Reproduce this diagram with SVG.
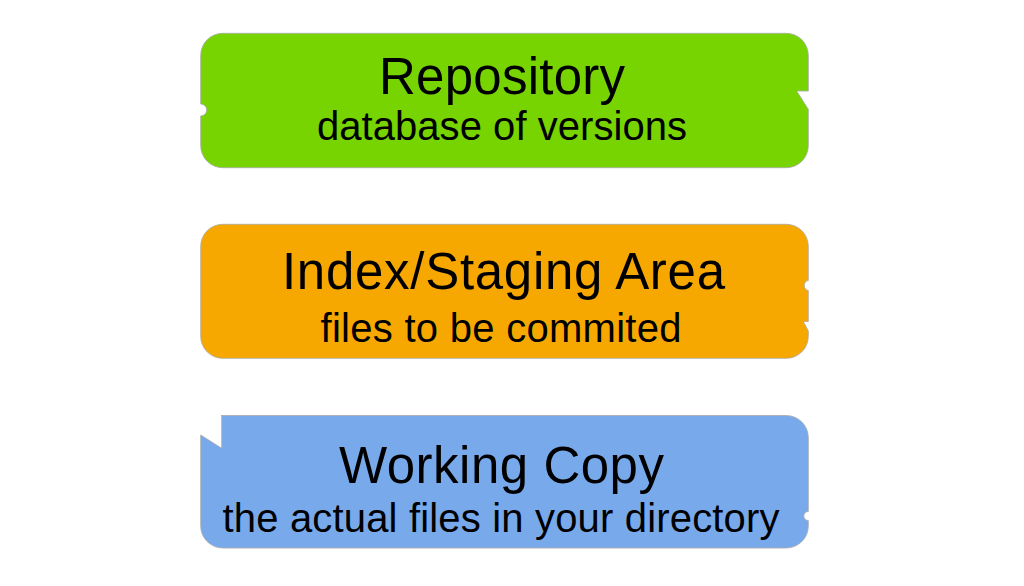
<svg xmlns="http://www.w3.org/2000/svg" width="1024" height="586" viewBox="0 0 1024 586">
  <style>
    .box { stroke: #a8a8a8; stroke-width: 0.8; }
    .title { font-family: "Liberation Sans", Arial, Helvetica, sans-serif; font-size: 51px; fill: #000; text-anchor: middle; }
    .sub { font-family: "Liberation Sans", Arial, Helvetica, sans-serif; font-size: 40px; fill: #000; text-anchor: middle; }
  </style>
  <rect width="1024" height="586" fill="#ffffff"/>
  <g id="repository">
    <path class="box" fill="#77D400" d="M 222.7 33.3 H 786.3 A 22 22 0 0 1 808.3 55.3 V 91 H 796.7 L 808.3 109.3 V 145.7 A 22 22 0 0 1 786.3 167.7 H 222.7 A 22 22 0 0 1 200.7 145.7 V 116 A 6 6 0 0 0 200.7 104 V 55.3 A 22 22 0 0 1 222.7 33.3 Z"/>
    <text class="title" x="502" y="94" textLength="246">Repository</text>
    <text class="sub" x="502" y="139.5" textLength="370">database of versions</text>
  </g>
  <g id="staging">
    <path class="box" fill="#F7A800" d="M 222.7 224.3 H 786.3 A 22 22 0 0 1 808.3 246.3 V 280.5 A 4 5 0 0 0 808.3 290.5 V 321.5 H 803.3 L 808.3 331 V 336.3 A 22 22 0 0 1 786.3 358.3 H 222.7 A 22 22 0 0 1 200.7 336.3 V 246.3 A 22 22 0 0 1 222.7 224.3 Z"/>
    <text class="title" x="503.5" y="289" textLength="443">Index/Staging Area</text>
    <text class="sub" x="501" y="341.5" textLength="361">files to be commited</text>
  </g>
  <g id="working">
    <path class="box" fill="#78AAEB" d="M 221 415.5 H 786.3 A 22 22 0 0 1 808.3 437.5 V 511.5 A 4.5 4.5 0 0 0 808.3 520.5 V 526 A 22 22 0 0 1 786.3 548 H 222.7 A 22 22 0 0 1 200.7 526 V 435 L 221.7 448.3 V 415.5 Z"/>
    <text class="title" x="501.5" y="483" textLength="325">Working Copy</text>
    <text class="sub" x="501" y="531.5" textLength="557">the actual files in your directory</text>
  </g>
  <g id="connectors"></g>
</svg>
